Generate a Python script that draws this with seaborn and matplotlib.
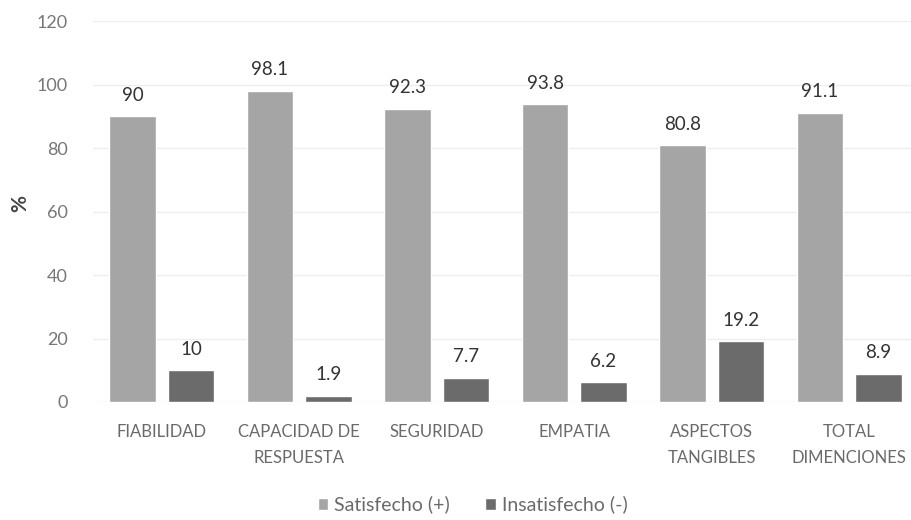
import seaborn as sns
import pandas as pd
import matplotlib.pyplot as plt

categorias = ['FIABILIDAD', 'CAPACIDAD DE\nRESPUESTA', 'SEGURIDAD', 'EMPATIA',
              'ASPECTOS\nTANGIBLES', 'TOTAL\nDIMENCIONES']
satisfecho = [90, 98.1, 92.3, 93.8, 80.8, 91.1]
insatisfecho = [10, 1.9, 7.7, 6.2, 19.2, 8.9]
series = ['Satisfecho (+)', 'Insatisfecho (-)']

df = pd.DataFrame({
    'categoria': categorias * 2,
    'serie': [series[0]] * len(categorias) + [series[1]] * len(categorias),
    'valor': satisfecho + insatisfecho,
})

sns.set_style('white')
plt.rcParams['font.family'] = ['Lato', 'DejaVu Sans']

fig = plt.figure(figsize=(9.11, 5.2), dpi=100)
ax = fig.add_axes([93 / 911, 1 - 402 / 520, 825 / 911, 381 / 520])

sns.barplot(data=df, x='categoria', y='valor', hue='serie',
            palette=['#a5a5a5', '#6b6b6b'], width=0.85, gap=0.2,
            ax=ax, legend=True)

# etiquetas de valores
for cont in ax.containers:
    ax.bar_label(cont, fmt='%g', padding=9, fontsize=13.5, color='#333333')

ax.set_ylim(0, 120)
ax.set_xlim(-0.5, 5.5)
ax.set_yticks(range(0, 121, 20))
ax.yaxis.grid(True, color='#eeeeee', linewidth=1)
ax.set_axisbelow(True)
for s in ax.spines.values():
    s.set_visible(False)
ax.tick_params(axis='y', length=0, labelsize=13, labelcolor='#777777', pad=18)
ax.tick_params(axis='x', length=0, labelsize=12, labelcolor='#6a6a6a', pad=16)
for t in ax.get_xticklabels():
    t.set_linespacing(1.75)
ax.set_xlabel('')
ax.set_ylabel('%', fontsize=15, color='#444444', fontweight='bold')
ax.yaxis.set_label_coords(-0.076, 0.52)

ax.legend(loc='upper center', bbox_to_anchor=(0.46, -0.2), ncol=2, frameon=False,
          fontsize=14, labelcolor='#6a6a6a', handlelength=0.55, handleheight=0.55,
          handletextpad=0.3, columnspacing=1.8)

plt.savefig('out.png', dpi=100)
